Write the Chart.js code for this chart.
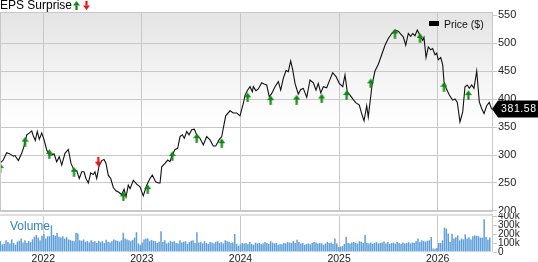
<!DOCTYPE html>
<html><head><meta charset="utf-8">
<script src="https://cdn.jsdelivr.net/npm/chart.js@4.4.1/dist/chart.umd.min.js"></script>
<style>
html,body{margin:0;padding:0;background:#fff;}
#wrap{position:relative;width:538px;height:262px;overflow:hidden;font-family:"Liberation Sans",Arial,sans-serif;}
canvas{position:absolute;left:0;}
#price{top:0;}
#vol{top:213px;}
.lbl{position:absolute;white-space:nowrap;line-height:12px;}
#eps{left:0;top:-1px;font-size:12px;color:#000;}
#vollab{left:10px;top:220px;font-size:12px;color:#3484c4;}
#legtxt{left:444px;top:17.5px;font-size:10.5px;color:#111;}
#legbox{position:absolute;left:429px;top:21px;width:10px;height:5px;background:#000;}
.ico{position:absolute;top:1px;}
</style>
</head><body>
<div id="wrap">
<canvas id="price" width="538" height="213"></canvas>
<canvas id="vol" width="538" height="49"></canvas>
<div id="eps" class="lbl">EPS Surprise</div>
<svg class="ico" style="left:73px" width="7" height="9" viewBox="0 0 7 9"><polygon points="0,4.5 3.5,0 7,4.5" fill="#0f8a0f"/><rect x="2.4" y="4.4" width="2.2" height="4.6" fill="#0f8a0f"/></svg>
<svg class="ico" style="left:83px" width="7" height="9" viewBox="0 0 7 9"><polygon points="0,4.5 3.5,9 7,4.5" fill="#f01010"/><rect x="2.4" y="0" width="2.2" height="4.6" fill="#f01010"/></svg>
<div id="legbox"></div>
<div id="legtxt" class="lbl">Price ($)</div>
<div id="vollab" class="lbl">Volume</div>
</div>
<script>
// ---------- data ----------
const yearTicks = [2022, 2023, 2024, 2025, 2026];
const priceTicks = [200, 250, 300, 350, 400, 450, 500, 550];
const volumeTicks = [0, 100000, 200000, 300000, 400000];
const xMin = 2021.561, xMax = 2026.561;

const priceDates = [
2021.561,2021.594,2021.629,2021.662,2021.696,2021.713,2021.747,2021.781,2021.804,2021.832,2021.858,2021.883,2021.899,2021.919,2021.939,2021.960,2021.984,2022.007,2022.035,2022.061,2022.085,2022.109,2022.136,2022.162,2022.187,2022.220,2022.254,2022.281,2022.312,2022.339,2022.365,2022.390,2022.413,2022.433,2022.457,2022.481,2022.507,2022.524,2022.542,2022.565,2022.592,2022.616,2022.636,2022.659,2022.684,2022.710,2022.737,2022.771,2022.795,2022.819,2022.839,2022.862,
2022.880,2022.913,2022.947,2022.981,2023.014,2023.049,2023.082,2023.106,2023.140,2023.166,2023.184,2023.201,2023.234,2023.262,2023.285,2023.308,2023.336,2023.363,2023.387,2023.410,2023.430,2023.455,2023.478,2023.505,2023.532,2023.556,2023.589,2023.623,2023.657,2023.691,2023.724,2023.749,2023.782,2023.810,2023.826,2023.850,2023.894,2023.927,2023.962,2023.995,2024.029,2024.046,2024.073,2024.097,2024.120,
2024.130,2024.157,2024.181,2024.215,2024.239,2024.266,2024.292,2024.317,2024.350,2024.384,2024.408,2024.434,2024.462,2024.485,2024.509,2024.530,2024.553,2024.586,2024.611,2024.637,2024.672,2024.705,2024.739,2024.766,2024.789,2024.814,2024.840,2024.874,2024.908,2024.935,2024.969,2025.002,2025.037,2025.060,2025.083,2025.111,2025.144,2025.172,2025.205,2025.229,2025.253,2025.280,2025.296,
2025.321,2025.334,2025.364,2025.398,2025.432,2025.466,2025.499,2025.534,2025.567,2025.601,2025.625,2025.651,2025.676,2025.702,2025.726,2025.747,2025.770,2025.793,2025.821,2025.848,2025.861,2025.882,2025.905,2025.929,2025.949,2025.973,2025.990,2026.006,2026.031,2026.051,2026.064,2026.084,2026.118,2026.152,2026.176,2026.199,2026.226,2026.254,2026.277,2026.300,2026.321,2026.345,2026.368,2026.396,2026.422,2026.446,2026.470,2026.497,2026.523,2026.548
];
const priceValues = [
285,291,304,302,298,299,290,303,315,336,339,343,334,326,342,328,339,328,309,300,300,302,288,297,282,303,310,285,273,272,258,270,270,258,250,268,265,270,258,280,290,292,285,264,258,242,236,233,229,239,225,246,
240,255,248,243,227,246,258,264,252,250,250,279,285,291,288,300,310,312,333,336,330,342,336,345,346,336,330,318,333,327,316,316,327,333,348,370,379,375,375,370,392,407,416,422,413,
422,415,418,429,427,425,404,410,422,431,416,437,451,449,468,452,428,409,417,419,403,434,429,416,428,411,422,420,435,447,440,428,422,443,413,407,399,393,389,374,361,388,368,
405,425,450,462,479,496,508,517,523,521,516,511,496,517,512,517,513,523,514,505,510,474,493,488,490,479,482,470,474,461,431,420,407,398,400,394,359,377,422,425,419,425,419,450,395,383,374,388,394,381.58
];
const lastPrice = 381.58;

const epsDates = [2021.563,2021.815,2022.061,2022.312,2022.558,2022.812,2023.059,2023.308,2023.556,2023.810,2024.073,2024.306,2024.570,2024.824,2025.077,2025.321,2025.567,2025.821,2026.064,2026.311];
const epsPrices = [277,324,302,270,288,226,239,298,330,321,403,398,399,401,407,428,517,509,422,407];
const epsBeat = [1,1,1,1,0,1,1,1,1,1,1,1,1,1,1,1,1,1,1,1];

// weekly volume (thousands of shares), first week starting mid-2021
const volumeStart = 2021.565;
const volumeK = [
120,85,90,130,110,95,140,100,80,115,125,150,105,
130,100,120,110,140,170,190,160,130,180,200,150,175,
175,296,190,180,210,170,160,175,150,165,140,135,125,
120,210,205,130,125,140,115,120,105,130,110,120,100,
125,110,120,100,135,115,105,120,140,130,125,115,130,
215,150,140,130,120,135,160,220,95,80,105,140,150,
150,120,135,125,120,100,115,230,110,130,95,105,125,
110,120,100,95,130,105,115,120,90,110,125,130,100,
220,105,110,95,120,100,90,110,105,95,115,120,100,
110,95,130,120,115,100,105,200,90,70,85,100,95,
100,85,110,90,80,105,95,100,85,95,110,100,90,
120,105,95,100,80,90,85,100,95,110,105,100,120,
100,137,110,95,100,80,90,95,85,100,110,105,95,
100,95,80,95,110,100,105,90,150,95,55,60,65,
90,167,100,95,105,110,100,95,120,115,100,190,100,
95,105,90,100,110,95,100,105,118,95,110,90,100,
105,95,110,100,90,105,95,100,110,95,105,100,120,
150,110,130,120,115,125,130,167,40,35,45,100,100,
130,270,260,204,110,204,150,165,185,130,150,140,196,
150,165,140,175,185,180,175,160,160,363,167,137,160
];

// ---------- rendering ----------
const FONT = '"Liberation Sans", Arial, sans-serif';
Chart.defaults.font.family = FONT;
const GRID = '#c8c8c8';

function noPad(s){ s.paddingTop = 0; s.paddingBottom = 0; s.paddingLeft = 0; s.paddingRight = 0; }

function arrowImg(up, color){
  const c = document.createElement('canvas');
  c.width = 7; c.height = 10;
  const g = c.getContext('2d');
  g.fillStyle = color;
  g.beginPath();
  if (up){ g.moveTo(0,5); g.lineTo(3.5,0.3); g.lineTo(7,5); g.closePath(); g.fill(); g.fillRect(2.4,4.8,2.2,5); }
  else { g.moveTo(0,5); g.lineTo(3.5,9.7); g.lineTo(7,5); g.closePath(); g.fill(); g.fillRect(2.4,0,2.2,5.2); }
  return c;
}
const upImg = arrowImg(true, '#0f8a0f');
const downImg = arrowImg(false, '#f01010');

const panelPlugin = {
  id: 'panel',
  beforeDraw(chart){
    const {ctx, chartArea:a} = chart;
    const g = ctx.createLinearGradient(0, a.top, 0, a.bottom);
    g.addColorStop(0, '#e4e4e4'); g.addColorStop(0.55, '#ffffff'); g.addColorStop(1, '#ffffff');
    ctx.save(); ctx.fillStyle = g; ctx.fillRect(a.left, a.top, a.right - a.left, a.bottom - a.top); ctx.restore();
  },
  afterDraw(chart){
    const {ctx, chartArea:a} = chart;
    ctx.save(); ctx.strokeStyle = GRID; ctx.lineWidth = 1;
    ctx.strokeRect(a.left + 0.5, a.top + 0.5, Math.round(a.right - a.left) - 1, Math.round(a.bottom - a.top) - 1);
    ctx.restore();
  }
};

const lastPricePlugin = {
  id: 'lastPrice',
  afterDraw(chart){
    const {ctx, chartArea:a} = chart;
    const y = Math.round(chart.scales.y.getPixelForValue(lastPrice));
    const x0 = a.right - 1, h = 8.5;
    ctx.save();
    ctx.fillStyle = '#000';
    ctx.beginPath();
    ctx.moveTo(x0, y); ctx.lineTo(x0 + 6, y - h); ctx.lineTo(538, y - h); ctx.lineTo(538, y + h); ctx.lineTo(x0 + 6, y + h); ctx.closePath();
    ctx.fill();
    ctx.fillStyle = '#fff';
    ctx.font = '10.5px ' + FONT;
    ctx.textBaseline = 'middle';
    ctx.textAlign = 'left';
    try { ctx.letterSpacing = '0.6px'; } catch(e) {}
    ctx.fillText(lastPrice.toFixed(2), x0 + 9, y + 0.5);
    ctx.restore();
  }
};

new Chart(document.getElementById('price'), {
  type: 'line',
  data: {
    datasets: [
      { label: 'EPS', type: 'scatter', order: 0,
        data: epsDates.map((d, i) => ({x: d, y: epsPrices[i]})),
        pointStyle: epsBeat.map(b => b ? upImg : downImg), pointRadius: 5 },
      { label: 'Price ($)', order: 1,
        data: priceDates.map((d, i) => ({x: d, y: priceValues[i]})),
        borderColor: '#111', borderWidth: 1.1, pointRadius: 0, tension: 0, fill: false }
    ]
  },
  options: {
    responsive: false, animation: false, devicePixelRatio: 1,
    layout: {autoPadding: false, padding: {top: 12, bottom: 1, left: 0, right: 0}},
    plugins: {legend: {display: false}, tooltip: {enabled: false}},
    scales: {
      x: { type: 'linear', min: xMin, max: xMax,
        afterBuildTicks: s => { s.ticks = yearTicks.map(v => ({value: v})); },
        ticks: {display: false}, grid: {color: GRID, drawTicks: false}, border: {display: false},
        afterFit: s => { s.height = 0; noPad(s); } },
      y: { position: 'right', min: 198.2, max: 555.4,
        afterBuildTicks: s => { s.ticks = priceTicks.map(v => ({value: v})); },
        ticks: {font: {size: 11, family: FONT}, color: '#222', padding: 1, autoSkip: false},
        grid: {color: c => (c.tick && c.tick.value === 550) ? 'rgba(0,0,0,0)' : GRID, tickColor: GRID, tickLength: 4},
        border: {display: false},
        afterFit: s => { s.width = 45; noPad(s); } }
    }
  },
  plugins: [panelPlugin, lastPricePlugin]
});

const volPlugin = {
  id: 'volPanel',
  afterDraw(chart){
    const {ctx, chartArea:a} = chart;
    ctx.save();
    ctx.strokeStyle = '#dedede'; ctx.lineWidth = 2;
    ctx.beginPath(); ctx.moveTo(a.left, a.top - 1); ctx.lineTo(a.right, a.top - 1); ctx.stroke();
    ctx.strokeStyle = GRID; ctx.lineWidth = 1;
    ctx.beginPath(); ctx.moveTo(Math.round(a.right) - 0.5, a.top - 2); ctx.lineTo(Math.round(a.right) - 0.5, a.bottom); ctx.stroke();
    ctx.restore();
  }
};

new Chart(document.getElementById('vol'), {
  type: 'bar',
  data: {
    datasets: [{
      data: volumeK.map((v, i) => ({x: volumeStart + i * 7 / 365.25, y: v * 1000})),
      backgroundColor: '#5f9fd9', borderWidth: 0, barPercentage: 1, categoryPercentage: 0.8
    }]
  },
  options: {
    responsive: false, animation: false, devicePixelRatio: 1,
    layout: {autoPadding: false, padding: {top: 3, bottom: 0, left: 0, right: 0}},
    plugins: {legend: {display: false}, tooltip: {enabled: false}},
    scales: {
      x: { type: 'linear', min: xMin, max: xMax, offset: false,
        afterBuildTicks: s => { s.ticks = yearTicks.map(v => ({value: v})); },
        ticks: {font: {size: 10.5, family: FONT}, color: '#222', padding: 1, maxRotation: 0, autoSkip: false, callback: v => String(v)},
        grid: {color: GRID, drawTicks: false, offset: false}, border: {display: false},
        afterFit: s => { s.height = 10; noPad(s); } },
      y: { position: 'right', min: 0, max: 400000,
        afterBuildTicks: s => { s.ticks = volumeTicks.map(v => ({value: v})); },
        ticks: {font: {size: 10, family: FONT}, color: '#222', padding: 1, autoSkip: false, callback: v => v === 0 ? '0' : (v / 1000) + 'k'},
        grid: {drawOnChartArea: false, color: GRID, tickLength: 4}, border: {display: false},
        afterFit: s => { s.width = 45; noPad(s); } }
    }
  },
  plugins: [volPlugin]
});
</script>
</body></html>
